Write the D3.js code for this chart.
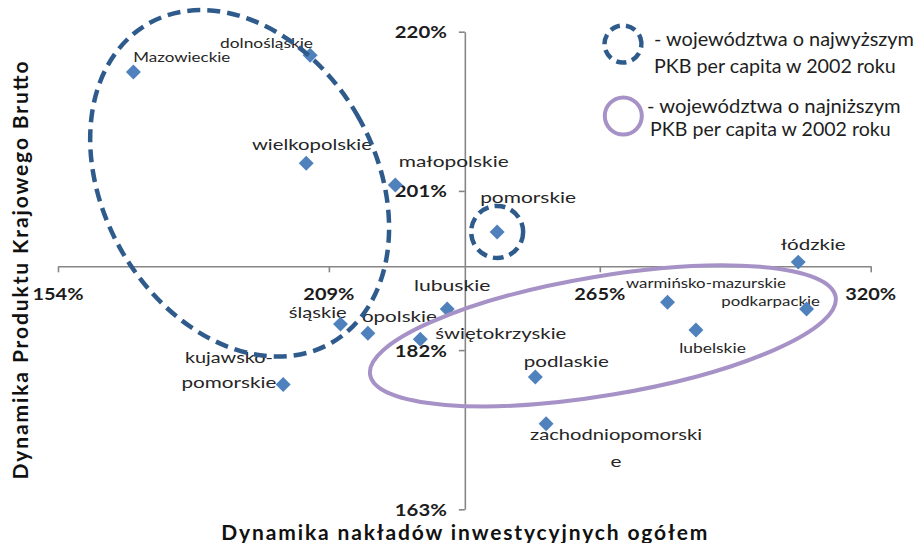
<!DOCTYPE html>
<html>
<head>
<meta charset="utf-8">
<script src="https://cdn.jsdelivr.net/npm/d3@7"></script>
<style>
  body { margin: 0; background: #fff; }
  svg { display: block; }
  text { font-family: Lato, "Open Sans", "DejaVu Sans", sans-serif; }
</style>
</head>
<body>
<svg id="chart" width="921" height="543"></svg>
<script>
// ---------------- DATA ----------------
const regions = [
  "Mazowieckie", "dolnośląskie", "wielkopolskie", "małopolskie", "pomorskie",
  "łódzkie", "śląskie", "opolskie", "kujawsko-pomorskie", "lubuskie",
  "świętokrzyskie", "podlaskie", "zachodniopomorskie", "warmińsko-mazurskie",
  "podkarpackie", "lubelskie"
];
// Dynamika nakładów inwestycyjnych ogółem (%)
const investmentGrowth = [169.4, 205.5, 204.7, 222.9, 243.7, 305.2, 211.7, 217.3, 200.0, 233.5, 228.0, 251.5, 253.7, 278.5, 306.9, 284.3];
// Dynamika Produktu Krajowego Brutto (%)
const gdpGrowth = [215.2, 217.2, 204.3, 201.7, 196.1, 192.5, 185.1, 184.0, 177.9, 186.9, 183.3, 178.8, 173.2, 187.7, 186.9, 184.4];

const xDomain = [154, 320];
const yDomain = [163, 220];
const xTickValues = [154, 209.33, 264.67, 320];
const xTickLabels = ["154%", "209%", "265%", "320%"];
const yTickValues = [220, 201, 182, 163];
const yTickLabels = ["220%", "201%", "182%", "163%"];
const axisCrossing = { x: 237.1, y: 192.0 };

const xTitle = "Dynamika nakładów inwestycyjnych ogółem";
const yTitle = "Dynamika Produktu Krajowego Brutto";

const legendLines = [
  "- województwa o najwyższym", "PKB per capita w 2002 roku",
  "- województwa o najniższym", "PKB per capita w 2002 roku"
];

// Annotation ellipses (centres in data units)
const highGroupEllipse = { cx: 191.1, cy: 201.9 };
const lowGroupEllipse = { cx: 265.3, cy: 183.7 };
const pomorskieIndex = 4;

// ---------------- LAYOUT / STYLE ----------------
const labelLayout = [
  { lines: ["Mazowieckie"], dx: 48.4, dy: [-15], len: [97], size: 13 },
  { lines: ["dolnośląskie"], dx: -43.6, dy: [-11.7], len: [93], size: 13 },
  { lines: ["wielkopolskie"], dx: 5.7, dy: [-20], len: [120], size: 16 },
  { lines: ["małopolskie"], dx: 58.4, dy: [-25], len: [110], size: 16 },
  { lines: ["pomorskie"], dx: 31, dy: [-35], len: [96], size: 16 },
  { lines: ["łódzkie"], dx: 15, dy: [-18.4], len: [65], size: 16 },
  { lines: ["śląskie"], dx: -22.8, dy: [-12.5], len: [58], size: 15 },
  { lines: ["opolskie"], dx: 31.5, dy: [-17.7], len: [75], size: 16 },
  { lines: ["kujawsko-", "pomorskie"], dx: -54.3, dy: [-28.3, -3.3], len: [88, 95], size: 16 },
  { lines: ["lubuskie"], dx: 5, dy: [-25], len: [76.6], size: 16 },
  { lines: ["świętokrzyskie"], dx: 80.5, dy: [-6.6], len: [131], size: 16 },
  { lines: ["podlaskie"], dx: 31, dy: [-16], len: [85], size: 16 },
  { lines: ["zachodniopomorski", "e"], dx: 70, dy: [10, 36.6], len: [172, 11], size: 16 },
  { lines: ["warmińsko-mazurskie"], dx: 38.4, dy: [-19.3], len: [160], size: 13 },
  { lines: ["podkarpackie"], dx: -36, dy: [-8.3], len: [98.7], size: 13 },
  { lines: ["lubelskie"], dx: 16.6, dy: [18], len: [66.7], size: 13 }
];

const plot = { left: 58, right: 870.7, top: 31.7, bottom: 509.3 };
const markerColor = "#4F81BD";
const axisColor = "#868686";
const darkDash = "#2F5B8C";
const lilac = "#A692C6";
const textColor = "#262626";

const svg = d3.select("#chart");

const x = d3.scaleLinear().domain(xDomain).range([plot.left, plot.right]);
const y = d3.scaleLinear().domain(yDomain).range([plot.bottom, plot.top]);

const xAxisY = y(axisCrossing.y);
const yAxisX = x(axisCrossing.x);

// ---------------- AXES ----------------
const xAxis = d3.axisBottom(x).tickValues(xTickValues).tickSizeInner(6).tickSizeOuter(0).tickFormat("");
const gx = svg.append("g").attr("transform", `translate(0,${xAxisY})`).call(xAxis);
gx.selectAll("path.domain").attr("stroke", axisColor).attr("stroke-width", 1.6);
gx.selectAll(".tick line").attr("stroke", axisColor).attr("stroke-width", 1.6);

const yAxis = d3.axisLeft(y).tickValues(yTickValues).tickSizeInner(6).tickSizeOuter(0).tickFormat("");
const gy = svg.append("g").attr("transform", `translate(${yAxisX},0)`).call(yAxis);
gy.selectAll("path.domain").attr("stroke", axisColor).attr("stroke-width", 1.6);
gy.selectAll(".tick line").attr("stroke", axisColor).attr("stroke-width", 1.6);

// tick labels
svg.append("g").selectAll("text").data(xTickValues).join("text")
  .attr("x", d => x(d)).attr("y", xAxisY + 27)
  .attr("text-anchor", "middle").attr("dominant-baseline", "central")
  .attr("font-size", 17).attr("font-weight", 700).attr("fill", "#1c1c1c")
  .attr("textLength", 51).attr("lengthAdjust", "spacingAndGlyphs")
  .text((d, i) => xTickLabels[i]);

svg.append("g").selectAll("text").data(yTickValues).join("text")
  .attr("x", yAxisX - 18).attr("y", d => y(d))
  .attr("text-anchor", "end").attr("dominant-baseline", "central")
  .attr("font-size", 17).attr("font-weight", 700).attr("fill", "#1c1c1c")
  .attr("textLength", 52).attr("lengthAdjust", "spacingAndGlyphs")
  .text((d, i) => yTickLabels[i]);

// axis titles
svg.append("text")
  .attr("x", (plot.left + plot.right) / 2).attr("y", 531)
  .attr("text-anchor", "middle").attr("dominant-baseline", "central")
  .attr("font-size", 21).attr("font-weight", 700).attr("fill", "#111")
  .attr("textLength", 486).attr("lengthAdjust", "spacing")
  .text(xTitle);

svg.append("text")
  .attr("transform", `translate(19,270.5) rotate(-90)`)
  .attr("text-anchor", "middle").attr("dominant-baseline", "central")
  .attr("font-size", 21).attr("font-weight", 700).attr("fill", "#111")
  .attr("textLength", 418).attr("lengthAdjust", "spacing")
  .text(yTitle);

// ---------------- POINT LABELS ----------------
const points = regions.map((r, i) => ({ name: r, xv: investmentGrowth[i], yv: gdpGrowth[i], lay: labelLayout[i] }));

const lg = svg.append("g");
points.forEach(p => {
  p.lay.lines.forEach((line, k) => {
    const t = lg.append("text")
      .attr("x", x(p.xv) + p.lay.dx)
      .attr("y", y(p.yv) + p.lay.dy[k])
      .attr("text-anchor", "middle").attr("dominant-baseline", "central")
      .attr("font-size", p.lay.size).attr("fill", textColor)
      .text(line);
    if (p.lay.len[k]) t.attr("textLength", p.lay.len[k]).attr("lengthAdjust", "spacingAndGlyphs");
  });
});

// ---------------- MARKERS ----------------
const diamond = d3.symbol().type(d3.symbolSquare).size(112);
svg.append("g").selectAll("path").data(points).join("path")
  .attr("d", diamond)
  .attr("transform", d => `translate(${x(d.xv)},${y(d.yv)}) rotate(45)`)
  .attr("fill", markerColor);

// ---------------- ANNOTATIONS ----------------
svg.append("ellipse")
  .attr("cx", 0).attr("cy", 0).attr("rx", 136).attr("ry", 184)
  .attr("transform", `translate(${x(highGroupEllipse.cx)},${y(highGroupEllipse.cy)}) rotate(-30)`)
  .attr("fill", "none").attr("stroke", darkDash).attr("stroke-width", 4.5)
  .attr("stroke-dasharray", "13,7");

svg.append("circle")
  .attr("cx", x(investmentGrowth[pomorskieIndex])).attr("cy", y(gdpGrowth[pomorskieIndex]))
  .attr("r", 26)
  .attr("fill", "none").attr("stroke", darkDash).attr("stroke-width", 4.5)
  .attr("stroke-dasharray", "11,6");

svg.append("ellipse")
  .attr("cx", 0).attr("cy", 0).attr("rx", 236).attr("ry", 59.5)
  .attr("transform", `translate(${x(lowGroupEllipse.cx)},${y(lowGroupEllipse.cy)}) rotate(-9.5)`)
  .attr("fill", "none").attr("stroke", lilac).attr("stroke-width", 4);

// ---------------- LEGEND ----------------
const legend = svg.append("g");
legend.append("circle").attr("cx", 623).attr("cy", 44).attr("r", 18.5)
  .attr("fill", "none").attr("stroke", darkDash).attr("stroke-width", 4.5)
  .attr("stroke-dasharray", "10,6").attr("transform", "rotate(-20,623,44)");
legend.append("circle").attr("cx", 623.3).attr("cy", 116).attr("r", 18.5)
  .attr("fill", "none").attr("stroke", lilac).attr("stroke-width", 4);

const legendLayout = [
  { x: 654, y: 38.3, len: 260 },
  { x: 654, y: 65, len: 241.7 },
  { x: 647, y: 105, len: 253.7 },
  { x: 650, y: 128.3, len: 240.7 }
];
legend.selectAll("text").data(legendLines).join("text")
  .attr("x", (d, i) => legendLayout[i].x).attr("y", (d, i) => legendLayout[i].y)
  .attr("dominant-baseline", "central")
  .attr("font-size", 19).attr("fill", "#1e1e1e")
  .attr("textLength", (d, i) => legendLayout[i].len).attr("lengthAdjust", "spacingAndGlyphs")
  .text(d => d);
</script>
</body>
</html>
